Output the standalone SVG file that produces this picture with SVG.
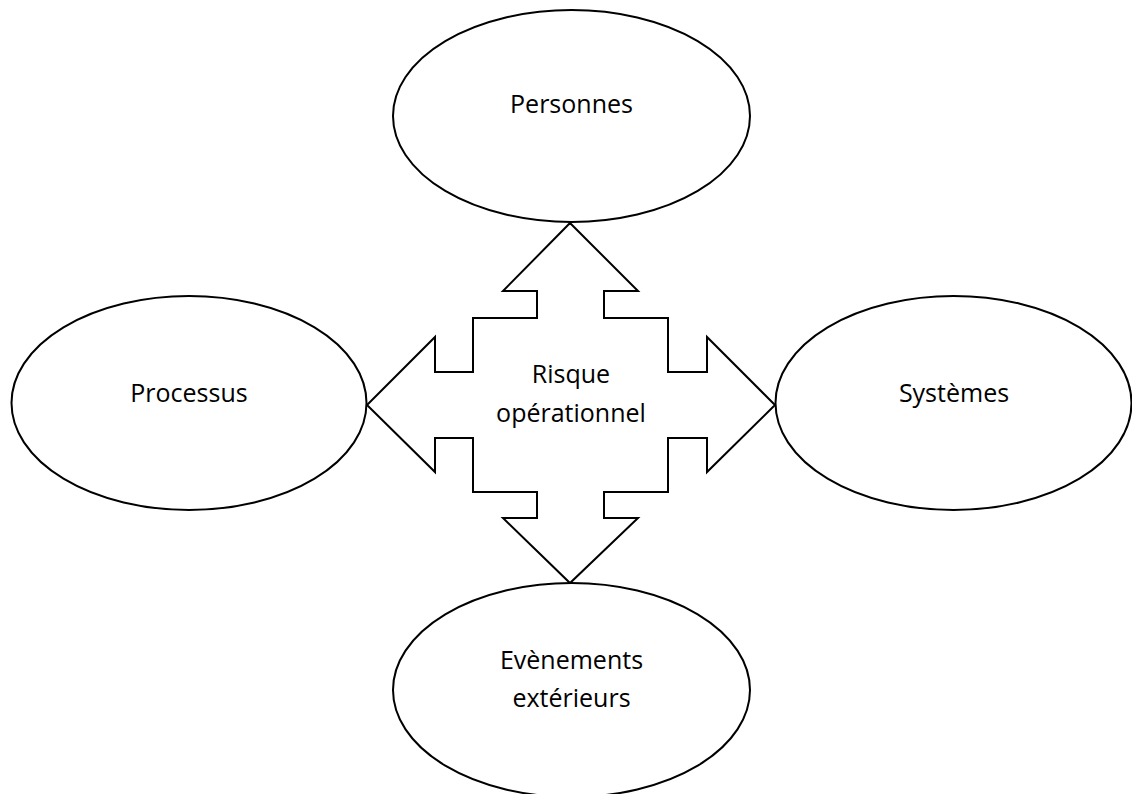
<svg xmlns="http://www.w3.org/2000/svg" width="1132" height="794" viewBox="0 0 1132 794">
<style>
.shape{fill:#ffffff;stroke:#000000;stroke-width:2;stroke-linejoin:miter}
.lbl{font-family:"Open Sans","Liberation Sans",sans-serif;font-size:25px;fill:#000000;text-anchor:middle}
</style>
<rect x="0" y="0" width="1132" height="794" fill="#ffffff"/>
<g id="connectors">
<path class="shape" d="M570,223 L638,291 L604,291 L604,318 L668,318 L668,372 L707,372 L707,337 L775,405 L707,472 L707,438 L668,438 L668,492 L604,492 L604,518 L638,518 L570,583 L503,518 L537,518 L537,492 L473,492 L473,438 L435,438 L435,472 L367,405 L435,337 L435,372 L473,372 L473,318 L537,318 L537,291 L503,291 Z"/>
<text class="lbl" x="571" y="383">Risque</text>
<text class="lbl" x="571" y="422">opérationnel</text>
</g>
<g id="personnes">
<ellipse class="shape" cx="571.5" cy="116" rx="178.5" ry="106"/>
<text class="lbl" x="571.5" y="113">Personnes</text>
</g>
<g id="processus">
<ellipse class="shape" cx="189" cy="403" rx="177.5" ry="107"/>
<text class="lbl" x="189" y="402">Processus</text>
</g>
<g id="systemes">
<ellipse class="shape" cx="953.5" cy="403" rx="178" ry="107"/>
<text class="lbl" x="954" y="402">Systèmes</text>
</g>
<g id="evenements">
<ellipse class="shape" cx="571.5" cy="690" rx="178.5" ry="107"/>
<text class="lbl" x="571.5" y="669">Evènements</text>
<text class="lbl" x="571.5" y="707">extérieurs</text>
</g>
</svg>
